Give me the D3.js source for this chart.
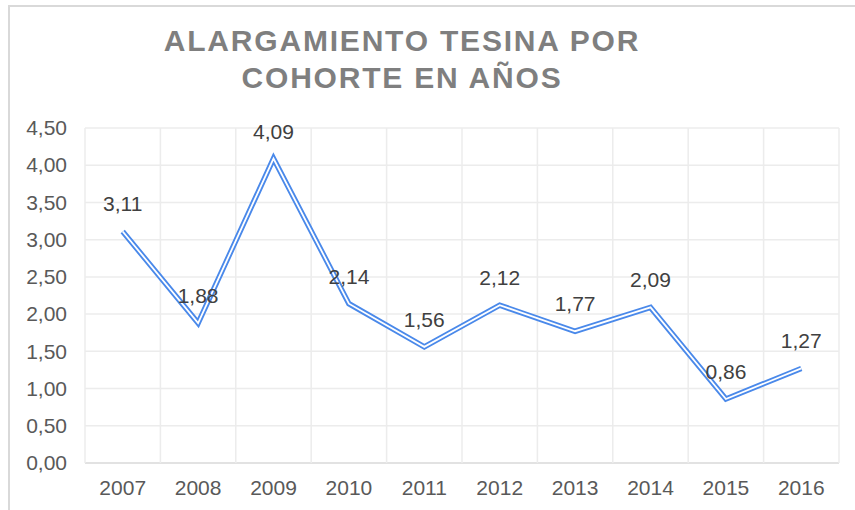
<!DOCTYPE html>
<html>
<head>
<meta charset="utf-8">
<script src="https://cdn.jsdelivr.net/npm/d3@7"></script>
<style>
  body { margin: 0; background: #fff; }
  text { font-family: "Liberation Sans", Arial, sans-serif; }
</style>
</head>
<body>
<div id="graph"></div>
<script>
// Chart data
var years = ["2007", "2008", "2009", "2010", "2011", "2012", "2013", "2014", "2015", "2016"];
var values = [3.11, 1.88, 4.09, 2.14, 1.56, 2.12, 1.77, 2.09, 0.86, 1.27];
var yTicks = [0, 0.5, 1, 1.5, 2, 2.5, 3, 3.5, 4, 4.5];
var titleLines = ["ALARGAMIENTO TESINA POR", "COHORTE EN AÑOS"];

var data = years.map(function(y, i) { return { year: y, value: values[i] }; });

// Set the dimensions of the canvas / graph
var W = 855, H = 510;
var margin = { top: 128, right: 16, bottom: 47, left: 85 },
    width = W - margin.left - margin.right,
    height = H - margin.top - margin.bottom;

var fmt = function(v) { return d3.format(".2f")(v).replace(".", ","); };

var svg = d3.select("#graph")
    .append("svg")
        .attr("width", W)
        .attr("height", H);

// Chart border
svg.append("rect")
    .attr("x", 9).attr("y", 6)
    .attr("width", W + 20).attr("height", H + 20)
    .attr("fill", "none")
    .attr("stroke", "#d9d9d9")
    .attr("stroke-width", 2);

// Title
svg.append("g").selectAll("text")
    .data(titleLines)
    .enter().append("text")
        .attr("x", 402)
        .attr("y", function(d, i) { return 51 + i * 37; })
        .attr("text-anchor", "middle")
        .attr("fill", "#7f7f7f")
        .style("font-size", "30px")
        .style("font-weight", "bold")
        .style("letter-spacing", "1.8px")
        .text(function(d) { return d; });

var g = svg.append("g")
    .attr("transform", "translate(" + margin.left + "," + margin.top + ")");

// Set the ranges
var x = d3.scaleBand().domain(years).range([0, width]);
var y = d3.scaleLinear().domain([0, 4.5]).range([height, 0]);

// Horizontal gridlines
g.append("g").selectAll("line")
    .data(yTicks)
    .enter().append("line")
        .attr("x1", 0).attr("x2", width)
        .attr("y1", function(d) { return y(d); })
        .attr("y2", function(d) { return y(d); })
        .attr("stroke", function(d) { return d === 0 ? "#d9d9d9" : "#ececec"; })
        .attr("stroke-width", 1.5);

// Vertical gridlines at category boundaries
var bounds = years.map(function(d) { return x(d); }).concat([width]);
g.append("g").selectAll("line")
    .data(bounds)
    .enter().append("line")
        .attr("x1", function(d) { return d; })
        .attr("x2", function(d) { return d; })
        .attr("y1", 0).attr("y2", height)
        .attr("stroke", "#ececec")
        .attr("stroke-width", 1.5);

// Y axis
var yAxis = g.append("g")
    .call(d3.axisLeft(y).tickValues(yTicks).tickFormat(fmt).tickSize(0).tickPadding(18));
yAxis.select(".domain").remove();
yAxis.selectAll("text")
    .attr("fill", "#595959")
    .style("font-size", "21px")
    .style("font-family", "'Liberation Sans', Arial, sans-serif");

// X axis
var xAxis = g.append("g")
    .attr("transform", "translate(0," + height + ")")
    .call(d3.axisBottom(x).tickSize(0).tickPadding(17));
xAxis.select(".domain").remove();
xAxis.selectAll("text")
    .attr("fill", "#595959")
    .style("font-size", "21px")
    .style("font-family", "'Liberation Sans', Arial, sans-serif");

// Define the line
var valueline = d3.line()
    .x(function(d) { return x(d.year) + x.bandwidth() / 2; })
    .y(function(d) { return y(d.value); });

// Double line: blue outer, white inner
g.append("path")
    .datum(data)
    .attr("d", valueline)
    .attr("fill", "none")
    .attr("stroke", "#4a89ea")
    .attr("stroke-width", 5.5)
    .attr("stroke-linejoin", "miter");
g.append("path")
    .datum(data)
    .attr("d", valueline)
    .attr("fill", "none")
    .attr("stroke", "#fff")
    .attr("stroke-width", 1.8)
    .attr("stroke-linejoin", "miter");

// Data labels
g.append("g").selectAll("text")
    .data(data)
    .enter().append("text")
        .attr("x", function(d) { return x(d.year) + x.bandwidth() / 2; })
        .attr("y", function(d) { return y(d.value) - 20; })
        .attr("text-anchor", "middle")
        .attr("fill", "#404040")
        .style("font-size", "21px")
        .text(function(d) { return fmt(d.value); });
</script>
</body>
</html>
